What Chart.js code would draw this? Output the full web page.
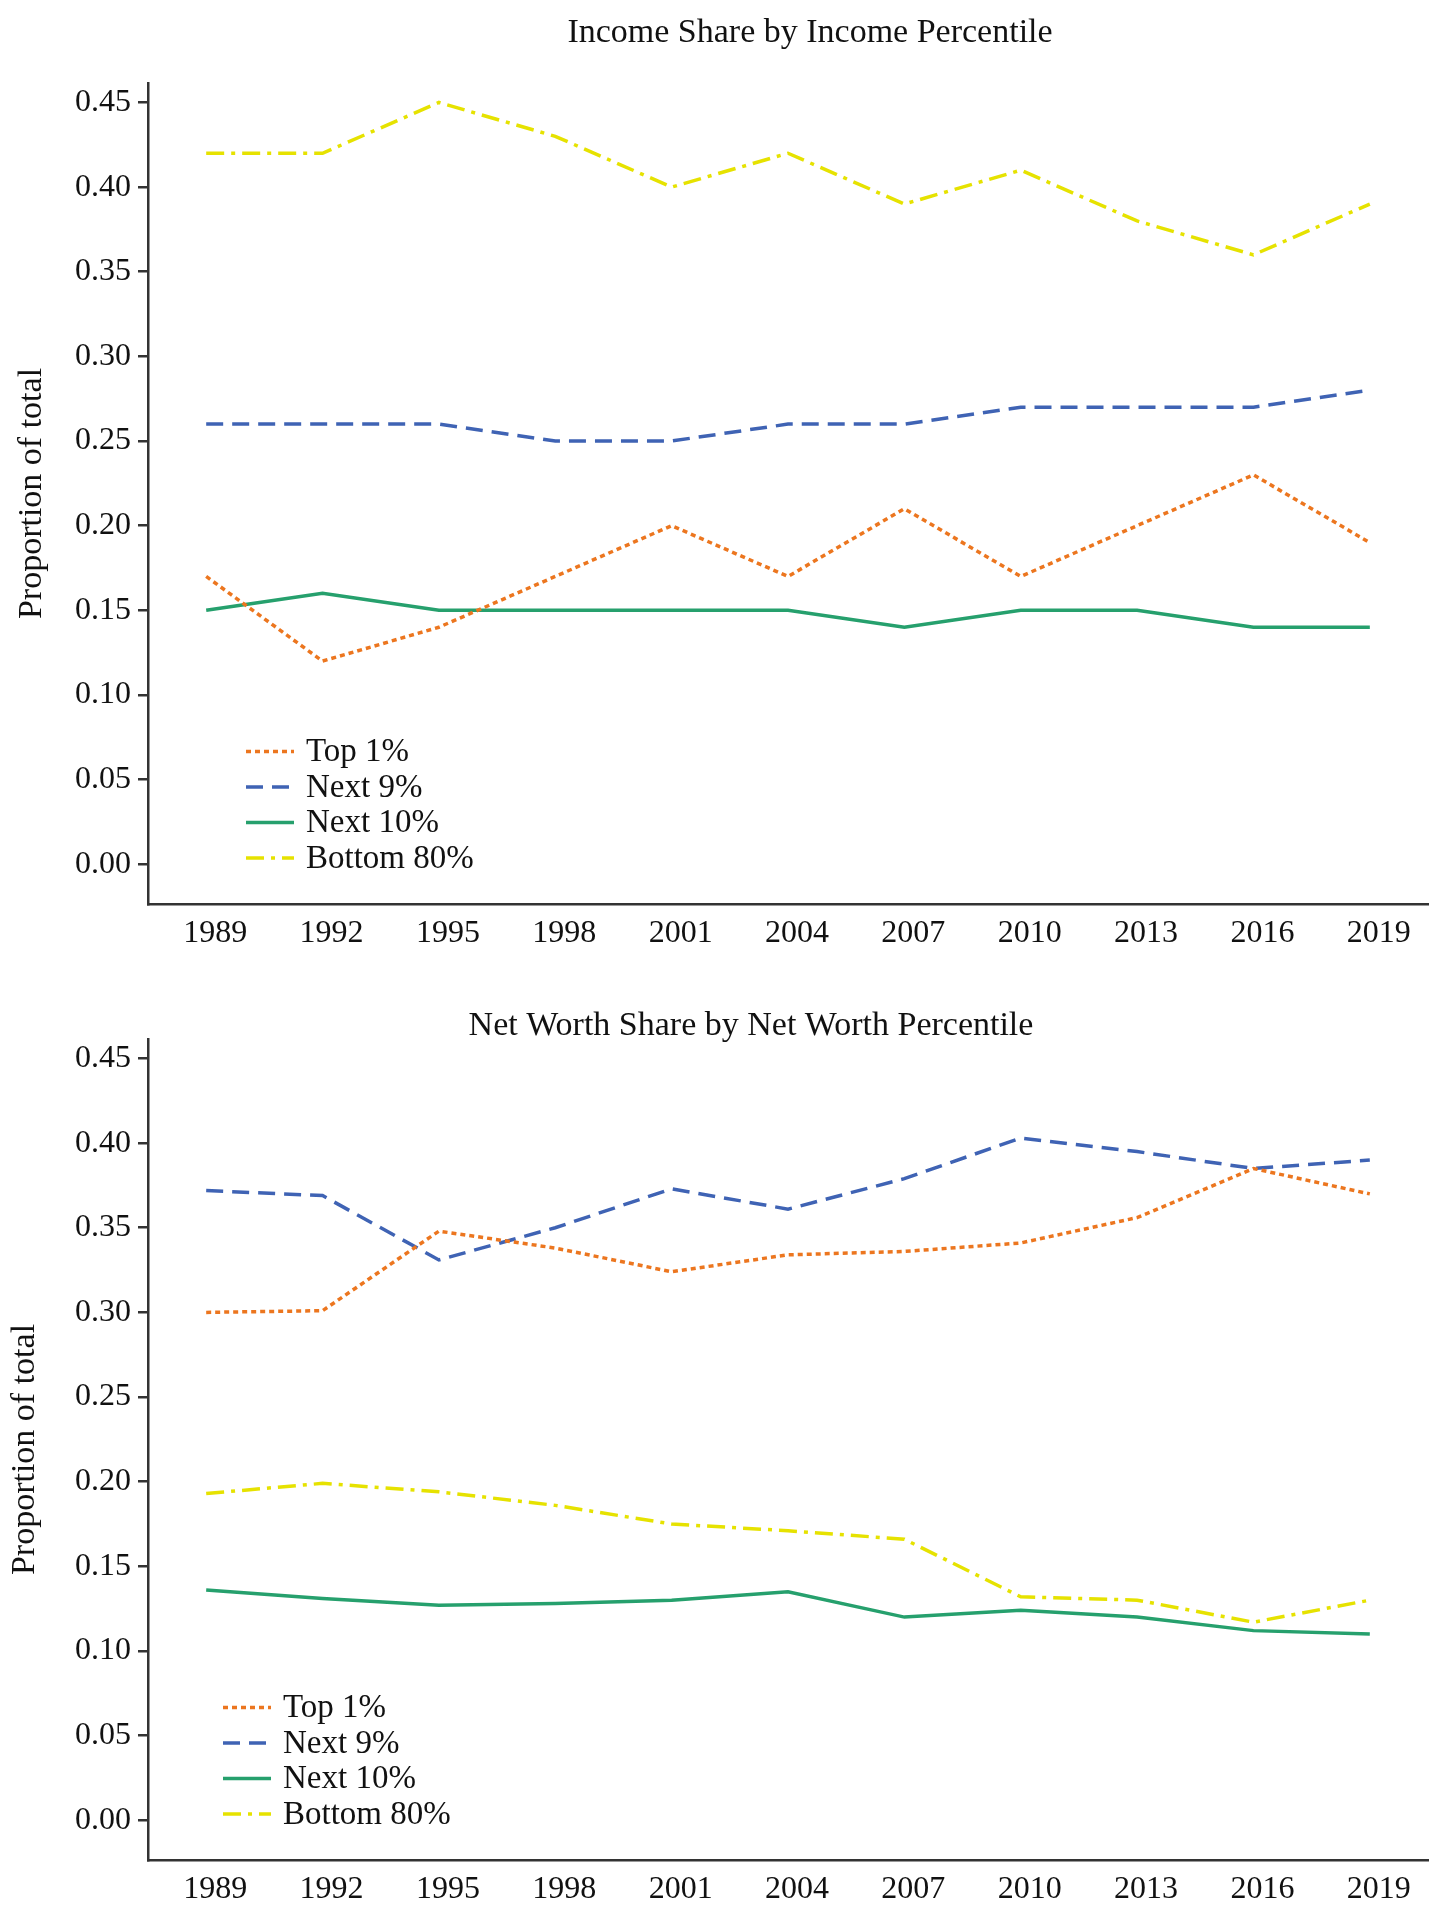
<!DOCTYPE html>
<html>
<head>
<meta charset="utf-8">
<title>Income and Net Worth Share by Percentile</title>
<script src="https://cdn.jsdelivr.net/npm/chart.js@4.4.1/dist/chart.umd.min.js"></script>
<style>
  html, body { margin: 0; padding: 0; background: #fff; }
  canvas { display: block; }
</style>
</head>
<body>
<canvas id="incomeChart" width="1438" height="958"></canvas>
<canvas id="worthChart" width="1438" height="962"></canvas>
<script>
/* ==========================================================================
   Income / net worth share by percentile - two stacked line panels.
   ========================================================================== */

const years = ["1989", "1992", "1995", "1998", "2001", "2004", "2007", "2010", "2013", "2016", "2019"];
const yTicks = [0, 0.05, 0.1, 0.15, 0.2, 0.25, 0.3, 0.35, 0.4, 0.45];
const seriesNames = ["Top 1%", "Next 9%", "Next 10%", "Bottom 80%"];

// Income share panel
const incomeTop1 = [0.17, 0.12, 0.14, 0.17, 0.20, 0.17, 0.21, 0.17, 0.20, 0.23, 0.19];
const incomeNext9 = [0.26, 0.26, 0.26, 0.25, 0.25, 0.26, 0.26, 0.27, 0.27, 0.27, 0.28];
const incomeNext10 = [0.15, 0.16, 0.15, 0.15, 0.15, 0.15, 0.14, 0.15, 0.15, 0.14, 0.14];
const incomeBottom80 = [0.42, 0.42, 0.45, 0.43, 0.40, 0.42, 0.39, 0.41, 0.38, 0.36, 0.39];

// Net worth share panel
const worthTop1 = [0.300, 0.301, 0.348, 0.338, 0.324, 0.334, 0.336, 0.341, 0.356, 0.385, 0.370];
const worthNext9 = [0.372, 0.369, 0.331, 0.350, 0.373, 0.361, 0.379, 0.403, 0.395, 0.385, 0.390];
const worthNext10 = [0.136, 0.131, 0.127, 0.128, 0.130, 0.135, 0.120, 0.124, 0.120, 0.112, 0.110];
const worthBottom80 = [0.193, 0.199, 0.194, 0.186, 0.175, 0.171, 0.166, 0.132, 0.130, 0.117, 0.130];

const seriesColors = ["#ec761f", "#3f63b4", "#26a06d", "#e6e200"];
const seriesDashes = [[5, 4], [17, 9], [], [18, 7, 4, 7]];

const SERIF = "'Liberation Serif', 'Times New Roman', serif";
const INK = "#111111";
const AXIS = "#333333";

// panel heading, drawn over the plot at a fixed spot
const panelTitle = {
  id: "panelTitle",
  afterDraw(chart, args, opts) {
    const ctx = chart.ctx;
    ctx.save();
    ctx.font = opts.size + "px " + SERIF;
    ctx.fillStyle = INK;
    ctx.textAlign = "center";
    ctx.textBaseline = "middle";
    ctx.fillText(opts.text, opts.x, opts.y);
    ctx.restore();
  },
};

// legend sitting inside the plot, bottom-left, with line samples
const insideLegend = {
  id: "insideLegend",
  afterDatasetsDraw(chart, args, opts) {
    const { ctx, chartArea } = chart;
    const sets = chart.data.datasets;
    const x0 = chartArea.left + opts.left;
    ctx.save();
    ctx.font = opts.size + "px " + SERIF;
    ctx.textBaseline = "middle";
    ctx.textAlign = "left";
    sets.forEach((ds, i) => {
      const y = chartArea.bottom - opts.bottom - (sets.length - 1 - i) * opts.rowGap;
      ctx.strokeStyle = ds.borderColor;
      ctx.lineWidth = ds.borderWidth;
      ctx.setLineDash(ds.borderDash || []);
      ctx.beginPath();
      ctx.moveTo(x0, y);
      ctx.lineTo(x0 + opts.lineLength, y);
      ctx.stroke();
      ctx.setLineDash([]);
      ctx.fillStyle = INK;
      ctx.fillText(ds.label, x0 + opts.lineLength + opts.textGap, y + 1);
    });
    ctx.restore();
  },
};

function buildPanel(canvasId, series, panel) {
  const canvas = document.getElementById(canvasId);
  return new Chart(canvas, {
    type: "line",
    data: {
      labels: years,
      datasets: series.map((values, i) => ({
        label: seriesNames[i],
        data: values,
        borderColor: seriesColors[i],
        borderDash: seriesDashes[i],
        borderWidth: 3.5,
        pointRadius: 0,
        tension: 0,
        fill: false,
      })),
    },
    options: {
      responsive: false,
      animation: false,
      devicePixelRatio: 1,
      layout: { padding: { top: panel.areaTop, right: 10, bottom: 0, left: 0 } },
      plugins: {
        legend: { display: false },
        tooltip: { enabled: false },
        panelTitle: { text: panel.title, x: panel.titleX, y: panel.titleY, size: 34 },
        insideLegend: { left: panel.legendLeft, bottom: 46, rowGap: 35.5, lineLength: 48, textGap: 12, size: 33 },
      },
      scales: {
        x: {
          type: "category",
          offset: true,
          grid: { display: false, drawTicks: false },
          border: { display: true, color: AXIS, width: 2.5 },
          ticks: {
            color: INK,
            font: { family: SERIF, size: 32 },
            padding: 10,
            labelOffset: 9,
            maxRotation: 0,
            autoSkip: false,
          },
          afterFit: (scale) => { scale.height = canvas.height - panel.areaBottom; },
        },
        y: {
          min: -0.0235,
          max: 0.4615,
          afterBuildTicks: (scale) => { scale.ticks = yTicks.map((v) => ({ value: v })); },
          ticks: {
            color: INK,
            font: { family: SERIF, size: 32 },
            padding: 7,
            callback: (v) => Number(v).toFixed(2),
          },
          grid: { drawOnChartArea: false, drawTicks: true, tickLength: 10, color: AXIS, lineWidth: 2.5 },
          border: { display: true, color: AXIS, width: 2.5 },
          title: {
            display: true,
            text: "Proportion of total",
            color: INK,
            font: { family: SERIF, size: 34 },
            padding: { top: panel.yTitlePad, bottom: 0 },
          },
          afterFit: (scale) => { scale.width = 148; },
        },
      },
    },
    plugins: [panelTitle, insideLegend],
  });
}

buildPanel("incomeChart", [incomeTop1, incomeNext9, incomeNext10, incomeBottom80], {
  title: "Income Share by Income Percentile",
  titleX: 810,
  titleY: 33,
  areaTop: 83,
  areaBottom: 904,
  yTitlePad: 12,
  legendLeft: 98,
});

buildPanel("worthChart", [worthTop1, worthNext9, worthNext10, worthBottom80], {
  title: "Net Worth Share by Net Worth Percentile",
  titleX: 751,
  titleY: 68,
  areaTop: 81,
  areaBottom: 902,
  yTitlePad: 5,
  legendLeft: 75,
});
</script>
</body>
</html>
